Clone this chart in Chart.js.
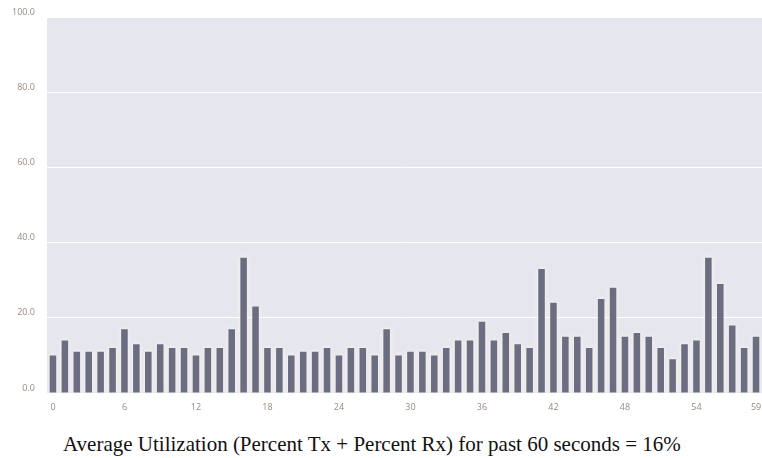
<!DOCTYPE html>
<html>
<head>
<meta charset="utf-8">
<script src="https://cdn.jsdelivr.net/npm/chart.js@4/dist/chart.umd.min.js"></script>
<style>
  body { margin: 0; background: #fff; width: 762px; height: 458px; overflow: hidden; }
  #wrap { position: absolute; left: 0; top: 0; width: 762px; height: 420px; }
  #caption { position: absolute; left: 63px; top: 432px; font-family: "Liberation Serif", serif; font-size: 21px; line-height: 24px; color: #111; white-space: nowrap; }
</style>
</head>
<body>
<div id="wrap"><canvas id="myBarChart"></canvas></div>
<div id="caption">Average Utilization (Percent Tx + Percent Rx) for past 60 seconds = 16%</div>
<script>
// seconds 0..59
var seconds = [];
for (var s = 0; s < 60; s++) seconds.push(String(s));

// utilization per second (percent)
var utilization = [10, 14, 11, 11, 11, 12, 17, 13, 11, 13,
                   12, 12, 10, 12, 12, 17, 36, 23, 12, 12,
                   10, 11, 11, 12, 10, 12, 12, 10, 17, 10,
                   11, 11, 10, 12, 14, 14, 19, 14, 16, 13,
                   12, 33, 24, 15, 15, 12, 25, 28, 15, 16,
                   15, 12, 9, 13, 14, 36, 29, 18, 12, 15];

var yTicks = [0, 20, 40, 60, 80, 100];

// plot background + light halo round the bars
var plotBg = {
    id: "plotBg",
    beforeDraw: function(chart) {
        var a = chart.chartArea, ctx = chart.ctx;
        ctx.save();
        ctx.fillStyle = "#e6e6ef";
        ctx.fillRect(a.left, a.top, a.right - a.left, a.bottom - a.top);
        ctx.restore();
    },
    beforeDatasetsDraw: function(chart) {
        var ctx = chart.ctx;
        ctx.save();
        ctx.shadowColor = "rgba(255,248,236,1)";
        ctx.shadowBlur = 4;
    },
    afterDatasetsDraw: function(chart) {
        chart.ctx.restore();
    }
};

var ctx = document.getElementById("myBarChart").getContext("2d");
var myBarChart = new Chart(ctx, {
    type: "bar",
    data: {
        labels: seconds,
        datasets: [{
            data: utilization,
            backgroundColor: "#6b6d80",
            borderWidth: 0,
            barPercentage: 0.55,
            categoryPercentage: 1.0
        }]
    },
    options: {
        responsive: true,
        maintainAspectRatio: false,
        animation: false,
        layout: { padding: { top: 17, right: 0, left: 0, bottom: 0 } },
        plugins: { legend: { display: false }, tooltip: { enabled: false } },
        scales: {
            x: {
                grid: { display: false, drawTicks: false },
                border: { display: false },
                ticks: {
                    autoSkip: false,
                    maxRotation: 0,
                    padding: 9,
                    color: "#978a80",
                    font: { family: "Open Sans", size: 9 },
                    callback: function(v, i) {
                        return (i % 6 === 0 || i === 59) ? seconds[i] : "";
                    }
                },
                afterFit: function(scale) {
                    scale.height = 27;
                    scale.paddingRight = 0;
                    scale.paddingLeft = 0;
                }
            },
            y: {
                min: 0,
                max: 100,
                afterBuildTicks: function(scale) {
                    scale.ticks = yTicks.map(function(v) { return { value: v }; });
                },
                grid: { color: "#ffffff", lineWidth: 1, drawTicks: false },
                border: { display: false },
                ticks: {
                    padding: 12,
                    labelOffset: -5,
                    color: "#978a80",
                    font: { family: "Open Sans", size: 9 },
                    callback: function(v) { return Number(v).toFixed(1); }
                },
                afterFit: function(scale) { scale.width = 47; }
            }
        }
    },
    plugins: [plotBg]
});
</script>
</body>
</html>
